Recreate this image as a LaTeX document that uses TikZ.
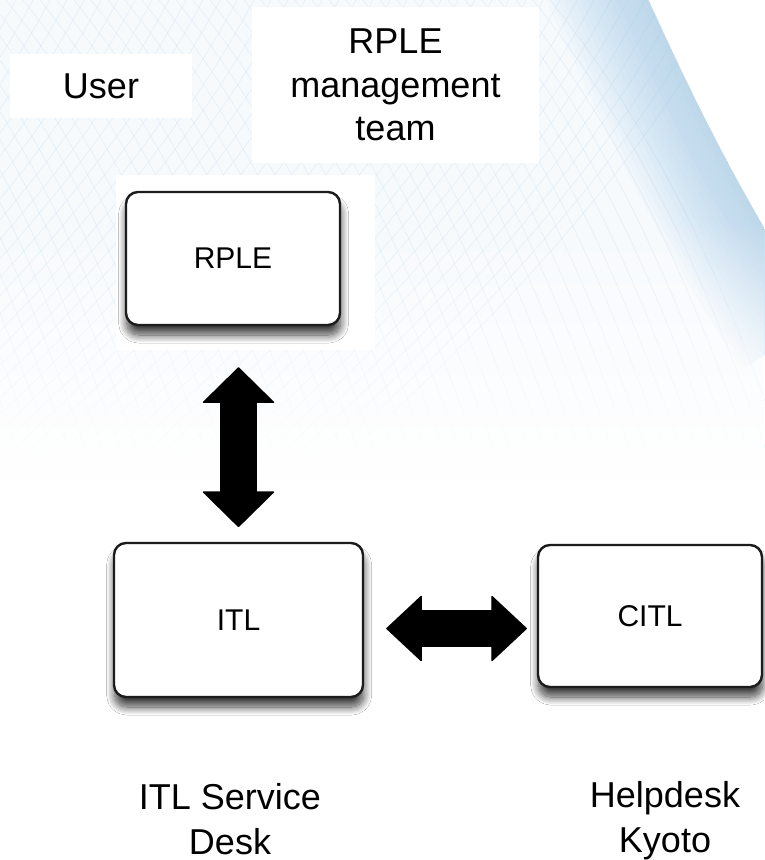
\documentclass[tikz,border=0pt]{standalone}
\usepackage{fontspec}
\setmainfont{Liberation Sans}
\usetikzlibrary{arrows.meta,shadows.blur,fadings}

\definecolor{meshblue}{RGB}{160,202,232}
\definecolor{boxline}{RGB}{28,28,28}

\tikzfading[name=fadedown, top color=transparent!100, bottom color=transparent!0]

\begin{document}
\begin{tikzpicture}[x=0.75pt, y=-0.75pt,
    mesh/.style={meshblue, line width=0.4pt, opacity=0.25},
    label/.style={fill=white, inner sep=0pt, align=center, font=\fontsize{27}{32.6}\selectfont},
    caption/.style={align=center, font=\fontsize{27}{33.6}\selectfont},
    unit/.style={draw=boxline, line width=1.8pt, fill=white, rounded corners=9pt,
      font=\fontsize{22.5}{26}\selectfont,
      blur shadow={shadow xshift=0.5pt, shadow yshift=-7.5pt, shadow blur radius=6pt,
        shadow blur steps=14, shadow opacity=75}},
    fat/.style={line width=27.75pt,
      {Triangle[length=27pt, width=#1, line width=1pt, round]}-{Triangle[length=27pt, width=#1, line width=1pt, round]}}
  ]
  % Fix the page size
  \useasboundingbox (0,0) rectangle (764,860);
  \fill[white] (0,0) rectangle (764,860);

  % Edge of the wave on the right
  \def\wave{(630,-40) .. controls (685,80) and (725,170) .. (820,320)}

  % Soft blue mesh along the top
  \begin{scope}
    \clip (-10,-40) -- \wave -- (820,480) -- (-10,480) -- cycle;
    \fill[meshblue, opacity=0.08] (0,0) rectangle (764,480);
    \foreach \i in {0,...,50} {
      \draw[mesh] (\i*17-120,0) .. controls (\i*17-200,150) and (\i*17-330,300) .. (\i*17-520,470);
      \draw[mesh] (\i*17-300,0) .. controls (\i*17-180,150) and (\i*17-120,300) .. (\i*17-60,470);
    }
    % Brighter band along the edge
    \foreach \w in {4,12,...,140} {
      \draw[meshblue, line width=\w pt, opacity=0.05] \wave;
    }
  \end{scope}
  \fill[white, path fading=fadedown] (0,220) rectangle (764,480);

  % White card behind the RPLE box
  \fill[white] (116,175) rectangle (375,350);

  % Role labels
  \node[label, minimum width=136.5pt, minimum height=48pt] (user) at (101,86) {User};
  \node[label, minimum width=215.25pt, minimum height=117pt] (team) at (395.5,85) {RPLE\\management\\team};

  % The three systems
  \node[unit, minimum width=160.5pt, minimum height=99.75pt] (rple) at (233,258.5) {RPLE};
  \node[unit, minimum width=186.75pt, minimum height=115.5pt] (itl) at (238.5,620) {ITL};
  \node[unit, minimum width=168pt, minimum height=106.5pt] (citl) at (650,616) {CITL};

  % Two-way links
  \draw[fat=54.75pt, shorten <=30.75pt, shorten >=11pt] (rple.south -| itl.north) -- (itl.north);
  \draw[fat=50.25pt, shorten <=16.5pt, shorten >=7.4pt] ([yshift=-6.4pt]itl.east) -- ([yshift=-9.4pt]citl.west);

  % Desk names below
  \node[caption] (desk) at (230,819) {ITL Service\\Desk};
  \node[caption] (kyoto) at (665,821) {Helpdesk\\Kyoto};

\end{tikzpicture}
\end{document}
